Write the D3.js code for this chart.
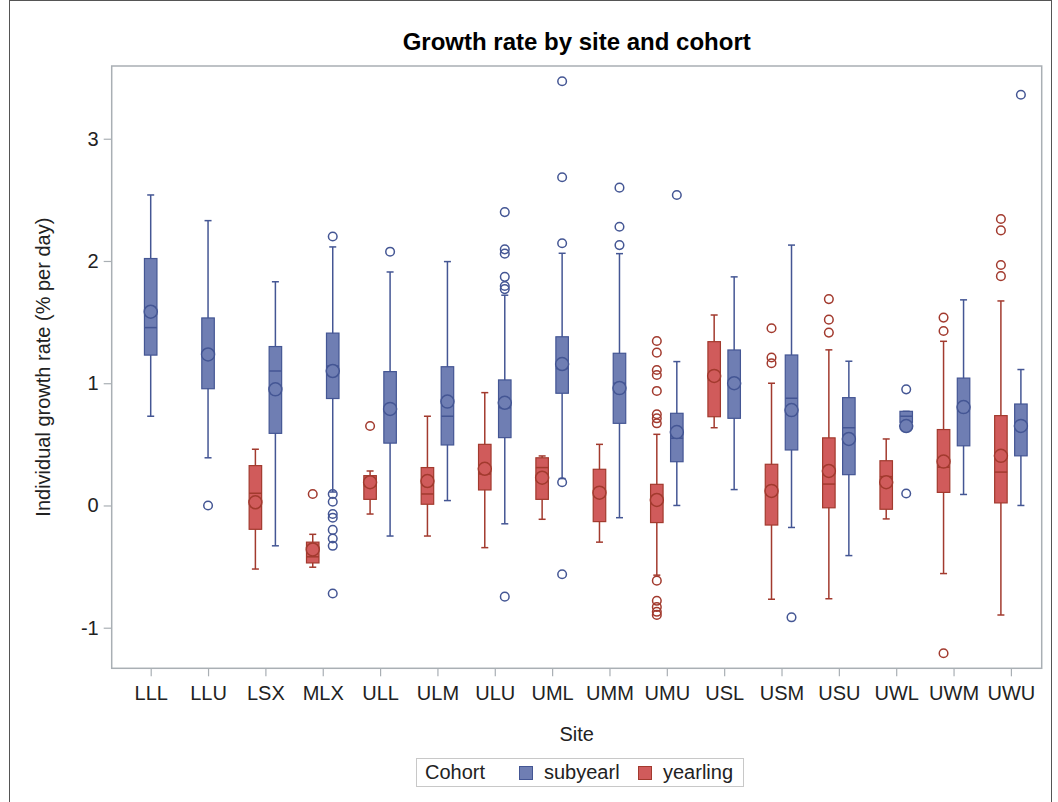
<!DOCTYPE html>
<html>
<head>
<meta charset="utf-8">
<script src="https://cdn.jsdelivr.net/npm/d3@7"></script>
<style>
    body { margin: 0; background: white; }
    text { font-family: "Liberation Sans", Arial, sans-serif; }
</style>
</head>
<body>
<div id="chart"></div>
<script>
// Sites on the x axis
var sites = ["LLL", "LLU", "LSX", "MLX", "ULL", "ULM", "ULU", "UML", "UMM", "UMU", "USL", "USM", "USU", "UWL", "UWM", "UWU"];
var cohorts = ["subyearl", "yearling"];
var yTicks = [-1, 0, 1, 2, 3];

// subyearl box statistics per site
var subLow  = [0.73, 0.39, -0.33, 0.11, -0.25, 0.04, -0.15, 0.22, -0.10, 0.00, 0.13, -0.18, -0.41, 0.68, 0.09, 0.00];
var subQ1   = [1.23, 0.955, 0.59, 0.875, 0.51, 0.495, 0.555, 0.918, 0.672, 0.358, 0.713, 0.454, 0.252, 0.68, 0.488, 0.406];
var subMed  = [1.455, 1.22, 1.10, 1.14, 0.81, 0.73, 0.80, 1.12, 1.00, 0.55, 1.027, 0.877, 0.636, 0.73, 0.775, 0.667];
var subQ3   = [2.02, 1.534, 1.30, 1.41, 1.095, 1.135, 1.027, 1.38, 1.245, 0.754, 1.272, 1.231, 0.882, 0.77, 1.042, 0.83];
var subHigh = [2.54, 2.33, 1.83, 2.115, 1.91, 1.995, 1.72, 2.063, 2.06, 1.177, 1.87, 2.13, 1.18, 0.77, 1.682, 1.112];
var subMean = [1.585, 1.235, 0.95, 1.10, 0.79, 0.85, 0.84, 1.157, 0.96, 0.60, 1.00, 0.78, 0.544, 0.65, 0.805, 0.651];
var subOut  = [
    [], [0.0], [], [2.2, 0.094, 0.03, -0.07, -0.1, -0.2, -0.27, -0.33, -0.72], [2.076], [],
    [2.40, 2.095, 2.06, 1.87, 1.795, 1.77, -0.746], [3.47, 2.685, 2.145, 0.19, -0.563],
    [2.60, 2.28, 2.13], [2.54], [], [-0.915], [], [0.95, 0.098], [], [3.36]
];

// yearling box statistics per site (null = no yearlings)
var yrlLow  = [null, null, -0.52, -0.505, -0.07, -0.25, -0.345, -0.113, -0.30, -0.57, 0.636, -0.767, -0.763, -0.11, -0.557, -0.896];
var yrlQ1   = [null, null, -0.195, -0.47, 0.05, 0.01, 0.127, 0.05, -0.132, -0.14, 0.726, -0.16, -0.019, -0.031, 0.107, 0.021];
var yrlMed  = [null, null, 0.10, -0.42, 0.16, 0.094, 0.258, 0.31, 0.11, 0.018, 1.027, 0.14, 0.175, 0.236, 0.313, 0.273];
var yrlQ3   = [null, null, 0.326, -0.30, 0.244, 0.31, 0.50, 0.39, 0.296, 0.173, 1.34, 0.337, 0.553, 0.366, 0.621, 0.735];
var yrlHigh = [null, null, 0.46, -0.236, 0.282, 0.73, 0.923, 0.405, 0.50, 0.582, 1.558, 1.00, 1.273, 0.544, 1.343, 1.673];
var yrlMean = [null, null, 0.026, -0.36, 0.19, 0.20, 0.30, 0.227, 0.105, 0.045, 1.06, 0.119, 0.282, 0.19, 0.359, 0.406];
var yrlOut  = [
    [], [], [], [0.094], [0.65], [], [], [], [],
    [1.345, 1.25, 1.108, 1.067, 0.937, 0.746, 0.713, 0.672, -0.615, -0.78, -0.83, -0.87, -0.895],
    [], [1.45, 1.21, 1.163], [1.688, 1.52, 1.414], [], [1.537, 1.427, -1.209], [2.343, 2.25, 1.967, 1.876]
];

// SAS-like group colours
var fillColor = d3.scaleOrdinal().domain(cohorts).range(["#6F7EB3", "#D05B5B"]);
var lineColor = d3.scaleOrdinal().domain(cohorts).range(["#445694", "#A23A2E"]);

var width = 1058;
var height = 802;
var plot = { left: 111.7, right: 1041.7, top: 66, bottom: 668.3 };

var svg = d3.select("#chart").append("svg")
    .attr("width", width)
    .attr("height", height);

// Outer border of the graph
svg.append("rect")
    .attr("x", 9.5).attr("y", 0.5)
    .attr("width", 1042).attr("height", 810)
    .attr("fill", "none")
    .attr("stroke", "#555")
    .attr("stroke-width", 1);

// Scales
var x = d3.scalePoint()
    .domain(sites)
    .range([150.7, 1010.9]);

var y = d3.scaleLinear()
    .domain([-1.332, 3.595])
    .range([plot.bottom, plot.top]);

// Title
svg.append("text")
    .attr("x", (plot.left + plot.right) / 2)
    .attr("y", 50)
    .attr("text-anchor", "middle")
    .style("font-size", "24px")
    .style("font-weight", "700")
    .style("fill", "#000")
    .text("Growth rate by site and cohort");

// Plot frame
svg.append("rect")
    .attr("x", plot.left).attr("y", plot.top)
    .attr("width", plot.right - plot.left)
    .attr("height", plot.bottom - plot.top)
    .attr("fill", "white")
    .attr("stroke", "#A9AFB4")
    .attr("stroke-width", 1.5);

// Axes
var xAxis = d3.axisBottom(x).tickSize(8).tickPadding(10);
var yAxis = d3.axisLeft(y).tickValues(yTicks).tickSize(8).tickPadding(5).tickFormat(d => String(d));

var gx = svg.append("g")
    .attr("transform", "translate(0," + plot.bottom + ")")
    .call(xAxis);

var gy = svg.append("g")
    .attr("transform", "translate(" + plot.left + ",0)")
    .call(yAxis);

[gx, gy].forEach(function (g) {
    g.select(".domain").remove();
    g.selectAll(".tick line").attr("stroke", "#A9AFB4").attr("stroke-width", 1.2);
    g.selectAll(".tick text")
        .style("font-size", "20px")
        .style("font-family", "Liberation Sans, Arial, sans-serif")
        .style("fill", "#222");
});

// Axis labels
svg.append("text")
    .attr("x", (plot.left + plot.right) / 2)
    .attr("y", 741)
    .attr("text-anchor", "middle")
    .style("font-size", "20px")
    .style("fill", "#222")
    .text("Site");

svg.append("text")
    .attr("transform", "translate(50," + ((plot.top + plot.bottom) / 2) + ") rotate(-90)")
    .attr("text-anchor", "middle")
    .style("font-size", "20px")
    .style("fill", "#222")
    .text("Individual growth rate (% per day)");

// Build one record per box
var boxes = [];
sites.forEach(function (s, i) {
    var both = yrlMed[i] !== null;
    if (both) {
        boxes.push({ site: s, cohort: "yearling", offset: -10, low: yrlLow[i], q1: yrlQ1[i], med: yrlMed[i], q3: yrlQ3[i], high: yrlHigh[i], mean: yrlMean[i], out: yrlOut[i] });
    }
    boxes.push({ site: s, cohort: "subyearl", offset: both ? 10 : 0, low: subLow[i], q1: subQ1[i], med: subMed[i], q3: subQ3[i], high: subHigh[i], mean: subMean[i], out: subOut[i] });
});

var boxW = 12.5;
var capW = 7;

var g = svg.append("g").attr("class", "boxes");

var box = g.selectAll(".box")
    .data(boxes)
    .enter()
    .append("g")
    .attr("class", "box")
    .attr("transform", d => `translate(${x(d.site) + d.offset},0)`);

// Whiskers
box.append("line")
    .attr("x1", 0).attr("x2", 0)
    .attr("y1", d => y(d.high)).attr("y2", d => y(d.low))
    .attr("stroke", d => lineColor(d.cohort))
    .attr("stroke-width", 1.5);

box.selectAll(".cap")
    .data(d => [d.low, d.high].map(v => ({ v: v, cohort: d.cohort })))
    .enter().append("line")
    .attr("class", "cap")
    .attr("x1", -capW / 2).attr("x2", capW / 2)
    .attr("y1", d => y(d.v)).attr("y2", d => y(d.v))
    .attr("stroke", d => lineColor(d.cohort))
    .attr("stroke-width", 1.5);

// Box
box.append("rect")
    .attr("x", -boxW / 2)
    .attr("width", boxW)
    .attr("y", d => y(d.q3))
    .attr("height", d => Math.max(1, y(d.q1) - y(d.q3)))
    .attr("fill", d => fillColor(d.cohort))
    .attr("stroke", d => lineColor(d.cohort))
    .attr("stroke-width", 1.2);

// Median
box.append("line")
    .attr("x1", -boxW / 2).attr("x2", boxW / 2)
    .attr("y1", d => y(d.med)).attr("y2", d => y(d.med))
    .attr("stroke", d => lineColor(d.cohort))
    .attr("stroke-width", 1.5);

// Mean marker
box.append("circle")
    .attr("cx", 0)
    .attr("cy", d => y(d.mean))
    .attr("r", 6.5)
    .attr("fill", d => fillColor(d.cohort))
    .attr("stroke", d => lineColor(d.cohort))
    .attr("stroke-width", 1.5);

// Outliers
box.selectAll(".outlier")
    .data(d => d.out.map(v => ({ v: v, cohort: d.cohort })))
    .enter().append("circle")
    .attr("class", "outlier")
    .attr("cx", 0)
    .attr("cy", d => y(d.v))
    .attr("r", 4.3)
    .attr("fill", "none")
    .attr("stroke", d => lineColor(d.cohort))
    .attr("stroke-width", 1.5);

// Legend
var legend = svg.append("g").attr("class", "legend");

legend.append("rect")
    .attr("x", 416.5).attr("y", 758.5)
    .attr("width", 327).attr("height", 28)
    .attr("fill", "white")
    .attr("stroke", "#C8C8C8");

legend.append("text")
    .attr("x", 425).attr("y", 779)
    .style("font-size", "20px")
    .style("fill", "#222")
    .text("Cohort");

var items = [{ c: "subyearl", x: 519 }, { c: "yearling", x: 638 }];

legend.selectAll(".swatch")
    .data(items)
    .enter().append("rect")
    .attr("class", "swatch")
    .attr("x", d => d.x + 0.5).attr("y", 766.5)
    .attr("width", 13).attr("height", 13)
    .attr("fill", d => fillColor(d.c))
    .attr("stroke", d => lineColor(d.c));

legend.selectAll(".label")
    .data(items)
    .enter().append("text")
    .attr("class", "label")
    .attr("x", d => d.x + 25).attr("y", 779)
    .style("font-size", "20px")
    .style("fill", "#222")
    .text(d => d.c);
</script>
</body>
</html>
